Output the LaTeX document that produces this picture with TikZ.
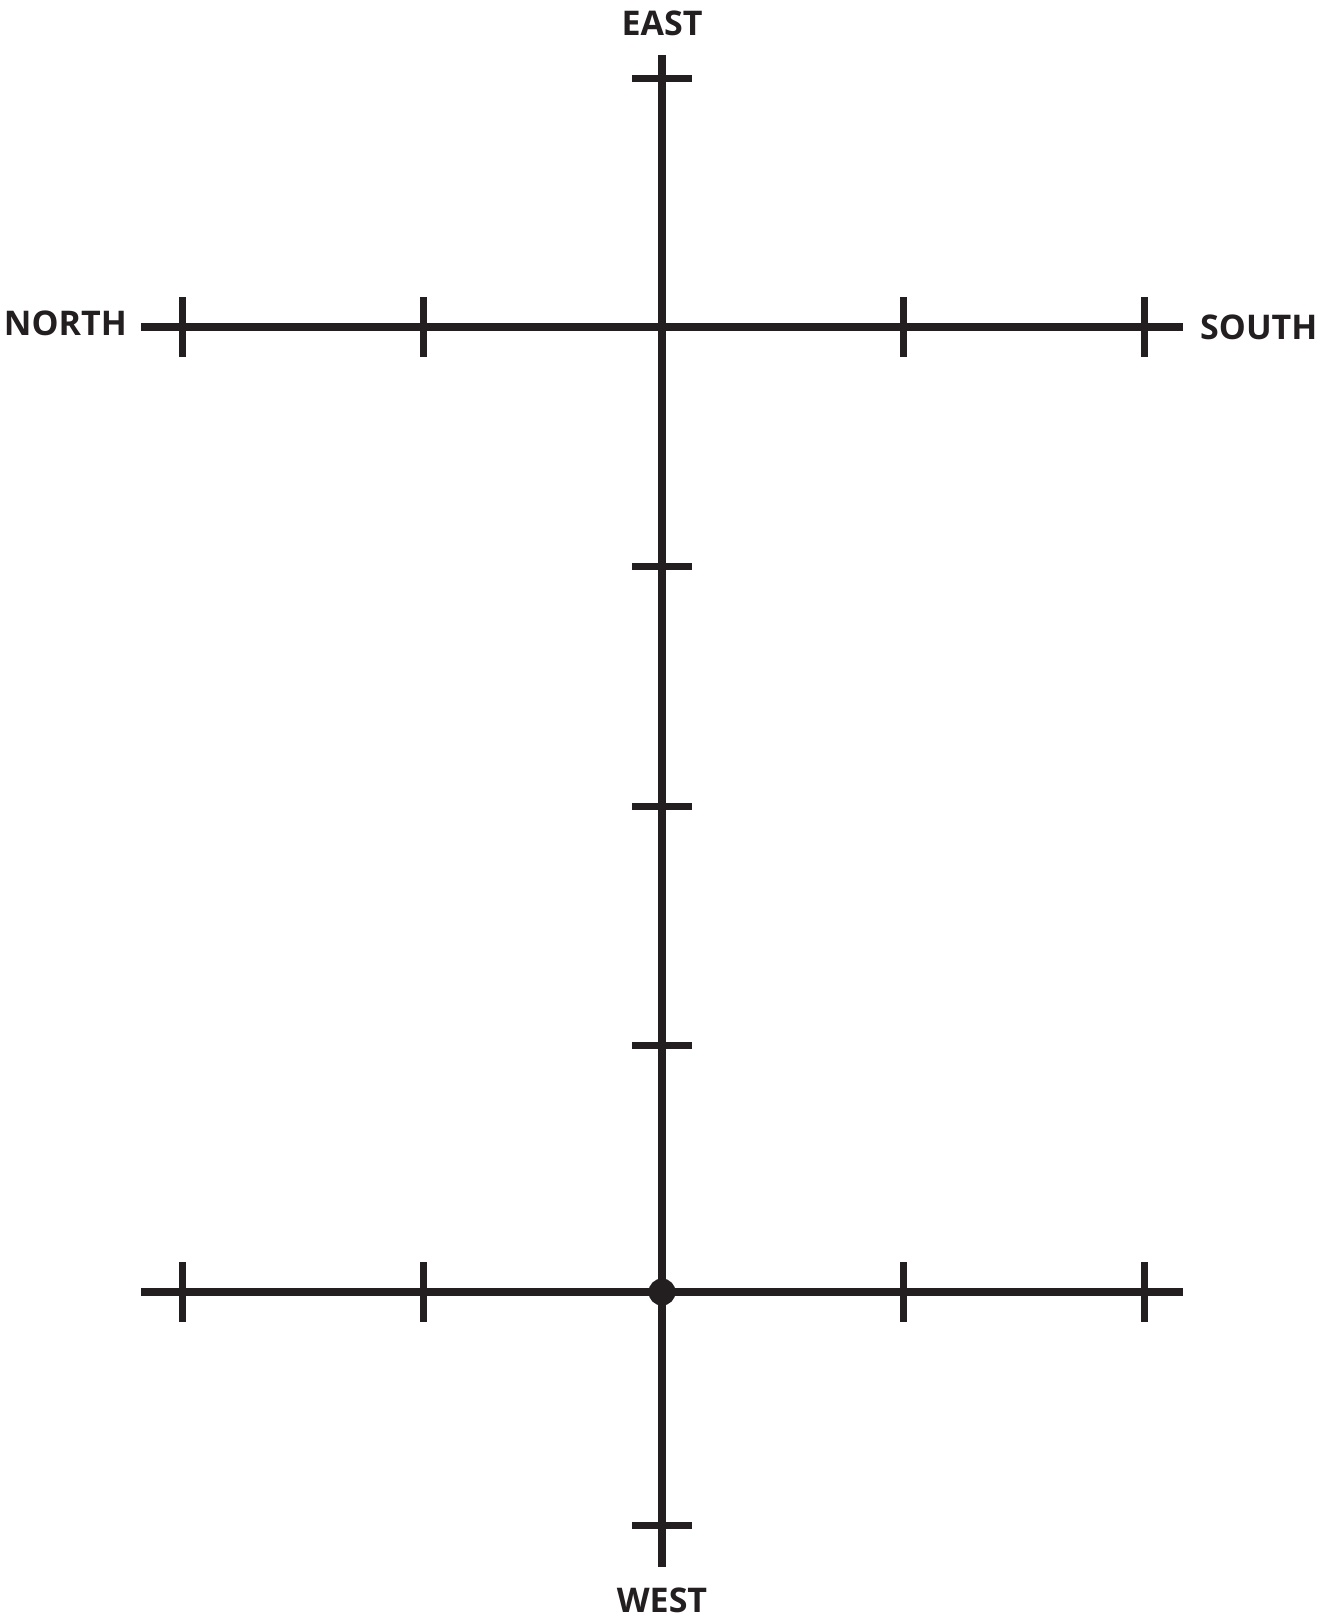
\documentclass[tikz,border=0pt]{standalone}
\usepackage{fontspec}
\setmainfont{Open Sans}
\definecolor{ink}{HTML}{231F20}
\begin{document}
\begin{tikzpicture}[x=1pt,y=-1pt,
  axis/.style={draw=ink,line width=8pt},
  tickmark/.style={draw=ink,line width=7pt},
  lbl/.style={text=ink,font=\bfseries\fontsize{34}{34}\selectfont,inner sep=0pt}]
\useasboundingbox (0,0) rectangle (1334,1621);
% vertical axis
\coordinate (vt) at (662,55);
\coordinate (vb) at (662,1567);
\draw[axis] (vt) -- (vb);
% horizontal axes
\coordinate (h1l) at (141,327);
\coordinate (h1r) at (1183,327);
\coordinate (h2l) at (141,1292);
\coordinate (h2r) at (1183,1292);
\draw[axis] (h1l) -- (h1r);
\draw[axis] (h2l) -- (h2r);
% ticks on horizontal axes
\foreach \x in {182,423,903,1144}{
  \draw[tickmark] (\x,297) -- (\x,357);
  \draw[tickmark] (\x,1262) -- (\x,1322);
}
% ticks on vertical axis
\foreach \y in {79,566,806,1045,1525}{
  \draw[tickmark] (632,\y) -- (692,\y);
}
% origin dot
\fill[ink] (662,1292) circle (13.5);
% labels
\node[lbl] (east) at (662,23) {EAST};
\node[lbl] (west) at (662,1600) {WEST};
\node[lbl,anchor=east] (north) at (127,323) {NORTH};
\node[lbl,anchor=west] (south) at (1200,327) {SOUTH};
\end{tikzpicture}
\end{document}
